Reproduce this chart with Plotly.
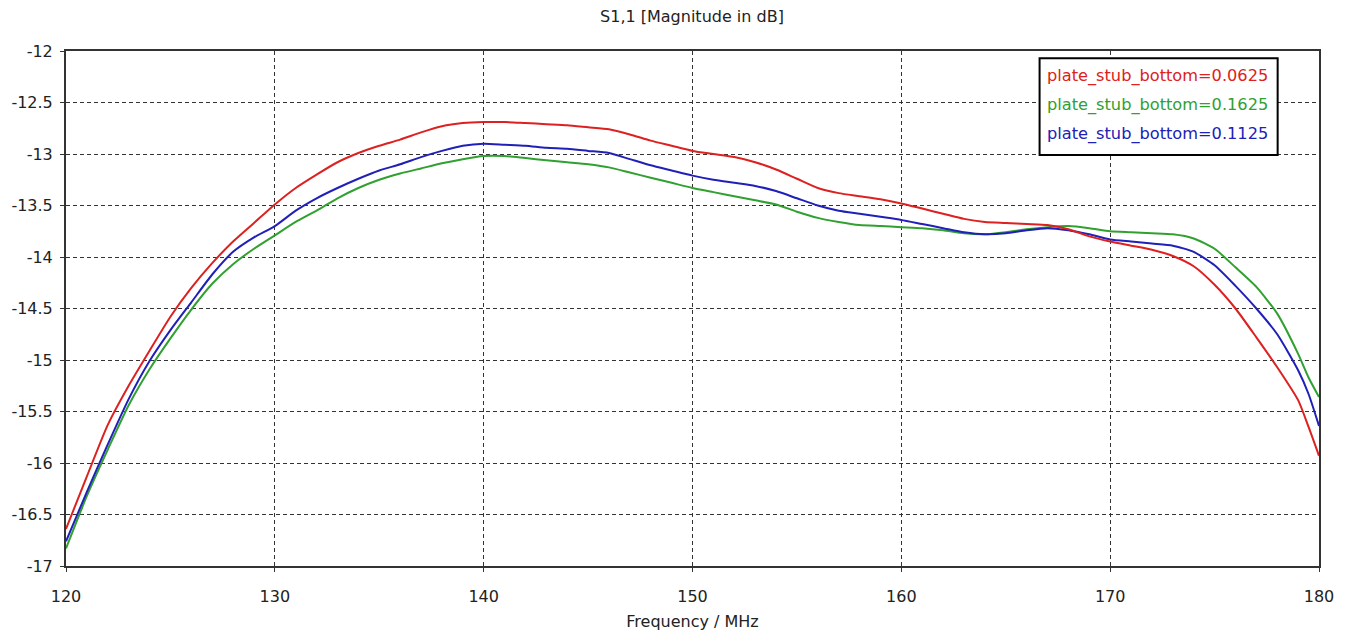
import plotly.graph_objects as go

freq = [120,121,122,123,124,125,126,127,128,129,130,131,132,133,134,135,136,137,138,139,
        140,141,142,143,144,145,146,147,148,149,150,151,152,153,154,155,156,157,158,159,
        160,161,162,163,164,165,166,167,168,169,170,171,172,173,174,175,176,177,178,179,179.5,180]

s11_0625 = [-16.64,-16.13,-15.63,-15.25,-14.91,-14.58,-14.30,-14.06,-13.85,-13.67,
            -13.49,-13.33,-13.20,-13.08,-12.99,-12.92,-12.86,-12.79,-12.73,-12.70,
            -12.69,-12.69,-12.70,-12.71,-12.72,-12.74,-12.76,-12.81,-12.87,-12.92,
            -12.97,-13.00,-13.03,-13.08,-13.15,-13.24,-13.33,-13.38,-13.41,-13.44,
            -13.48,-13.53,-13.58,-13.63,-13.66,-13.67,-13.68,-13.69,-13.73,-13.80,
            -13.85,-13.89,-13.93,-13.99,-14.09,-14.27,-14.50,-14.78,-15.07,-15.39,-15.65,-15.93]

s11_1625 = [-16.83,-16.32,-15.87,-15.44,-15.09,-14.79,-14.51,-14.26,-14.07,-13.92,
            -13.79,-13.66,-13.55,-13.43,-13.33,-13.25,-13.19,-13.14,-13.09,-13.05,
            -13.02,-13.02,-13.04,-13.06,-13.08,-13.10,-13.13,-13.18,-13.23,-13.28,
            -13.33,-13.37,-13.41,-13.45,-13.49,-13.56,-13.62,-13.66,-13.69,-13.70,
            -13.71,-13.72,-13.74,-13.77,-13.78,-13.76,-13.73,-13.71,-13.70,-13.72,
            -13.75,-13.76,-13.77,-13.78,-13.82,-13.92,-14.10,-14.29,-14.55,-14.94,-15.17,-15.36]

s11_1125 = [-16.76,-16.28,-15.82,-15.38,-15.01,-14.71,-14.44,-14.17,-13.95,-13.81,
            -13.70,-13.55,-13.43,-13.33,-13.24,-13.16,-13.10,-13.03,-12.97,-12.92,
            -12.90,-12.91,-12.92,-12.94,-12.95,-12.97,-12.99,-13.05,-13.11,-13.16,
            -13.21,-13.25,-13.28,-13.31,-13.36,-13.43,-13.50,-13.55,-13.58,-13.61,
            -13.64,-13.68,-13.72,-13.76,-13.78,-13.77,-13.74,-13.72,-13.74,-13.78,
            -13.83,-13.85,-13.87,-13.89,-13.95,-14.08,-14.28,-14.50,-14.75,-15.10,-15.33,-15.64]

series_names = ["plate_stub_bottom=0.0625", "plate_stub_bottom=0.1625", "plate_stub_bottom=0.1125"]
series_values = [s11_0625, s11_1625, s11_1125]
colors = ["#dd2020", "#30a030", "#2020b8"]

x_ticks = [120, 130, 140, 150, 160, 170, 180]
y_ticks = [-17, -16.5, -16, -15.5, -15, -14.5, -14, -13.5, -13, -12.5, -12]

FONT = "DejaVu Sans"

fig = go.Figure()
for idx in [1, 2, 0]:
    fig.add_trace(go.Scatter(x=freq, y=series_values[idx], mode="lines",
                             name=series_names[idx],
                             line=dict(color=colors[idx], width=2, shape="spline", smoothing=0.6),
                             showlegend=False))

fig.update_layout(
    width=1348, height=631,
    margin=dict(l=66, r=29, t=51, b=65),
    paper_bgcolor="white", plot_bgcolor="white",
    font=dict(family=FONT, size=16, color="#222"),
    title=dict(text="S1,1 [Magnitude in dB]", x=692/1348, xanchor="center",
               y=1 - 16/631, yanchor="middle", font=dict(family=FONT, size=16, color="#222")),
)

fig.update_xaxes(range=[120, 180], tickvals=x_ticks, ticktext=[str(v) for v in x_ticks],
                 showline=True, linecolor="#333", linewidth=2, mirror=True,
                 showgrid=True, gridcolor="#333", gridwidth=1, griddash="4px,3px",
                 ticks="outside", ticklen=4, tickcolor="#333", zeroline=False,
                 tickfont=dict(size=16), ticklabelstandoff=11, automargin=False,
                 title=dict(text="Frequency / MHz", font=dict(size=16), standoff=14))
fig.update_yaxes(range=[-17, -12], tickvals=y_ticks, ticktext=[f"{v:g}" for v in y_ticks],
                 showline=True, linecolor="#333", linewidth=2, mirror=True,
                 showgrid=True, gridcolor="#333", gridwidth=1, griddash="4px,3px",
                 ticks="outside", ticklen=4, tickcolor="#333", zeroline=False,
                 tickfont=dict(size=16), ticklabelstandoff=4, automargin=False)

fig.add_shape(type="rect", xref="paper", yref="paper", x0=0.777, x1=0.967, y0=0.798, y1=0.986,
              line=dict(color="black", width=2), fillcolor="white", layer="above")
for i, yy in enumerate([0.951, 0.895, 0.839]):
    fig.add_annotation(xref="paper", yref="paper", x=0.7815, y=yy, xanchor="left", yanchor="middle",
                       text=series_names[i], showarrow=False,
                       font=dict(family=FONT, size=16.2, color=colors[i]))

fig.write_html("out.html")
